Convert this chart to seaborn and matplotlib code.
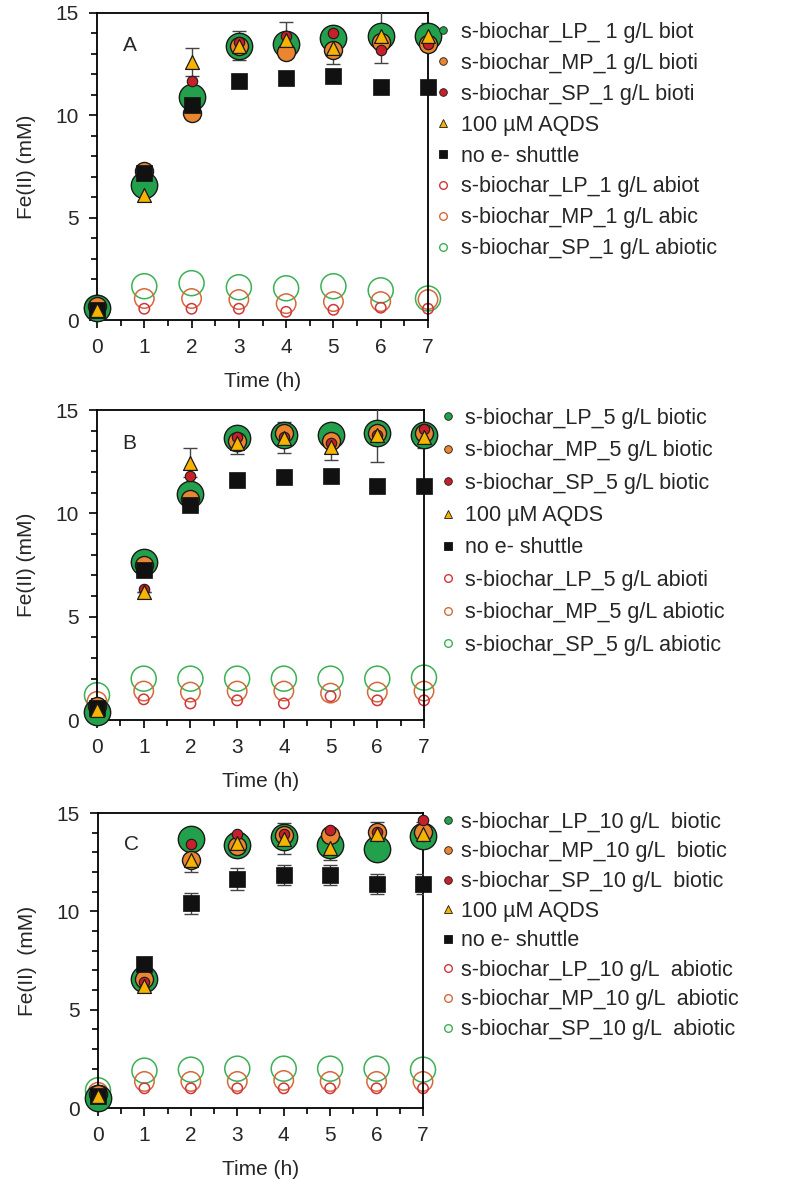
import matplotlib
matplotlib.use("Agg")
import matplotlib.pyplot as plt
from matplotlib.lines import Line2D
from matplotlib.ticker import MultipleLocator
import seaborn as sns
import pandas as pd

sns.set_theme(style="white")
plt.rcParams['font.family'] = ['Liberation Sans', 'DejaVu Sans']

time_h = [0, 1, 2, 3, 4, 5, 6, 7]

# ---- Panel A (1 g/L) ----
A_LP_bio = [0.6, 6.6, 10.9, 13.4, 13.5, 13.8, 13.9, 13.9]
A_MP_bio = [0.7, 7.3, 10.1, 13.4, 13.1, 13.2, 13.6, 13.5]
A_SP_bio = [0.5, 7.2, 11.7, 13.6, 13.9, 14.0, 13.2, 13.5]
A_AQDS = [0.5, 6.1, 12.6, 13.4, 13.7, 13.3, 13.9, 13.9]
A_AQDS_err = [0, 0, 0.7, 0.7, 0.85, 0.8, 1.35, 0.6]
A_none = [0.5, 7.2, 10.5, 11.7, 11.8, 11.9, 11.4, 11.4]
A_none_err = [0, 0, 0, 0, 0, 0, 0, 0]
A_LP_abio = [0.4, 0.55, 0.55, 0.55, 0.4, 0.5, 0.6, 0.55]
A_MP_abio = [0.6, 1.05, 1.05, 1.0, 0.8, 0.9, 0.9, 1.0]
A_SP_abio = [0.6, 1.65, 1.8, 1.6, 1.55, 1.65, 1.45, 1.05]
A_labels = ["s-biochar_LP_ 1 g/L biot", "s-biochar_MP_1 g/L bioti",
            "s-biochar_SP_1 g/L bioti", "100 µM AQDS", "no e- shuttle",
            "s-biochar_LP_1 g/L abiot", "s-biochar_MP_1 g/L abic",
            "s-biochar_SP_1 g/L abiotic"]

# ---- Panel B (5 g/L) ----
B_LP_bio = [0.4, 7.65, 10.95, 13.65, 13.8, 13.8, 13.9, 13.8]
B_MP_bio = [0.7, 7.5, 10.7, 13.5, 13.9, 13.5, 13.9, 13.9]
B_SP_bio = [0.6, 6.35, 11.8, 13.7, 13.7, 13.4, 13.8, 14.1]
B_AQDS = [0.5, 6.2, 12.45, 13.4, 13.65, 13.2, 13.8, 13.7]
B_AQDS_err = [0, 0, 0.7, 0.55, 0.75, 0.6, 1.3, 0.55]
B_none = [0.6, 7.25, 10.4, 11.6, 11.75, 11.8, 11.3, 11.3]
B_none_err = [0, 0, 0, 0, 0, 0, 0, 0]
B_LP_abio = [0.7, 1.0, 0.8, 0.95, 0.8, 1.15, 0.95, 0.95]
B_MP_abio = [0.9, 1.4, 1.35, 1.4, 1.4, 1.3, 1.35, 1.4]
B_SP_abio = [1.2, 2.0, 2.0, 2.0, 2.0, 2.0, 2.0, 2.05]
B_labels = ["s-biochar_LP_5 g/L biotic", "s-biochar_MP_5 g/L biotic",
            "s-biochar_SP_5 g/L biotic", "100 µM AQDS", "no e- shuttle",
            "s-biochar_LP_5 g/L abioti", "s-biochar_MP_5 g/L abiotic",
            "s-biochar_SP_5 g/L abiotic"]

# ---- Panel C (10 g/L) ----
C_LP_bio = [0.5, 6.55, 13.7, 13.35, 13.8, 13.35, 13.15, 13.85]
C_MP_bio = [0.7, 6.55, 12.6, 13.3, 13.9, 13.9, 14.05, 14.05]
C_SP_bio = [0.6, 6.4, 13.4, 13.95, 13.95, 14.15, 14.05, 14.65]
C_AQDS = [0.6, 6.2, 12.6, 13.5, 13.7, 13.2, 13.95, 13.95]
C_AQDS_err = [0, 0, 0.6, 0.5, 0.8, 0.6, 0.6, 0.6]
C_none = [0.6, 7.3, 10.4, 11.65, 11.85, 11.85, 11.4, 11.4]
C_none_err = [0, 0, 0.55, 0.55, 0.5, 0.5, 0.5, 0.5]
C_LP_abio = [0.6, 1.0, 1.0, 1.0, 1.0, 1.0, 1.0, 1.0]
C_MP_abio = [0.8, 1.35, 1.35, 1.35, 1.4, 1.35, 1.35, 1.35]
C_SP_abio = [0.9, 1.9, 1.95, 2.0, 2.0, 2.0, 2.0, 1.95]
C_labels = ["s-biochar_LP_10 g/L  biotic", "s-biochar_MP_10 g/L  biotic",
            "s-biochar_SP_10 g/L  biotic", "100 µM AQDS", "no e- shuttle",
            "s-biochar_LP_10 g/L  abiotic", "s-biochar_MP_10 g/L  abiotic",
            "s-biochar_SP_10 g/L  abiotic"]

GREEN = "#22a04b"
ORANGE = "#ea8530"
RED = "#c8202a"
YELLOW = "#f6b400"
BLACK = "#111111"
AB_RED = "#d0363c"
AB_ORANGE = "#d46a3a"
AB_GREEN = "#3cb055"
EDGE = "#1a1a1a"

fig = plt.figure(figsize=(8.01, 11.84), dpi=100)

panels = [
    ("A", [97, 13, 428, 320], A_LP_bio, A_MP_bio, A_SP_bio, A_AQDS, A_AQDS_err, A_none, A_none_err,
     A_LP_abio, A_MP_abio, A_SP_abio, A_labels, (1.027, 0.971), 0.46, 0.5, "Fe(II) (mM)"),
    ("B", [97, 410, 424, 720], B_LP_bio, B_MP_bio, B_SP_bio, B_AQDS, B_AQDS_err, B_none, B_none_err,
     B_LP_abio, B_MP_abio, B_SP_abio, B_labels, (1.055, 1.007), 0.53, 0.45, "Fe(II) (mM)"),
    ("C", [98, 813, 423, 1108], C_LP_bio, C_MP_bio, C_SP_bio, C_AQDS, C_AQDS_err, C_none, C_none_err,
     C_LP_abio, C_MP_abio, C_SP_abio, C_labels, (1.058, 1.004), 0.40, 0.3, "Fe(II)  (mM)"),
]

W, H = 801, 1184
for (letter, box, lpb, mpb, spb, aq, aqe, nn, nne, lpa, mpa, spa, labels,
     legpos, lspace, htpad, ylab) in panels:
    l, t, r, b = box
    ax = fig.add_axes([l / W, 1 - b / H, (r - l) / W, (b - t) / H])
    df = pd.DataFrame({"t": time_h, "lpb": lpb, "mpb": mpb, "spb": spb, "aq": aq,
                       "nn": nn, "lpa": lpa, "mpa": mpa, "spa": spa})

    # abiotic open circles
    for col, c, ms, z in [("spa", AB_GREEN, 18, 2), ("mpa", AB_ORANGE, 14, 2.1), ("lpa", AB_RED, 7.5, 2.2)]:
        sns.scatterplot(data=df, x="t", y=col, ax=ax, marker="o", s=ms ** 2,
                        facecolors="none", edgecolor=c, linewidth=1.1, zorder=z, clip_on=False, legend=False)

    # error bars
    ax.errorbar(time_h, aq, yerr=aqe, fmt="none", ecolor="#444444", elinewidth=1,
                capsize=5, capthick=1, zorder=3)
    ax.errorbar(time_h, nn, yerr=nne, fmt="none", ecolor="#444444", elinewidth=1,
                capsize=5, capthick=1, zorder=3)

    # biotic filled markers
    sns.scatterplot(data=df, x="t", y="lpb", ax=ax, marker="o", s=19 ** 2, color=GREEN,
                    edgecolor=EDGE, linewidth=1.0, zorder=4, clip_on=False, legend=False)
    sns.scatterplot(data=df, x="t", y="mpb", ax=ax, marker="o", s=13 ** 2, color=ORANGE,
                    edgecolor=EDGE, linewidth=1.0, zorder=5, clip_on=False, legend=False)
    sns.scatterplot(data=df, x="t", y="spb", ax=ax, marker="o", s=7.5 ** 2, color=RED,
                    edgecolor=EDGE, linewidth=0.8, zorder=6, clip_on=False, legend=False)
    sns.scatterplot(data=df, x="t", y="nn", ax=ax, marker="s", s=11 ** 2, color=BLACK,
                    edgecolor=BLACK, linewidth=0.5, zorder=7, clip_on=False, legend=False)
    sns.scatterplot(data=df, x="t", y="aq", ax=ax, marker="^", s=10 ** 2, color=YELLOW,
                    edgecolor=EDGE, linewidth=0.9, zorder=8, clip_on=False, legend=False)

    ax.set_xlim(0, 7)
    ax.set_ylim(0, 15)
    ax.xaxis.set_major_locator(MultipleLocator(1))
    ax.xaxis.set_minor_locator(MultipleLocator(0.5))
    ax.yaxis.set_major_locator(MultipleLocator(5))
    ax.yaxis.set_minor_locator(MultipleLocator(1))
    ax.tick_params(axis="both", which="major", direction="out", length=6, width=1.2,
                   color="black", labelsize=15, bottom=True, left=True, top=False, right=False, pad=7)
    ax.tick_params(axis="both", which="minor", direction="out", length=4, width=1.2,
                   color="black", bottom=True, left=True, top=False, right=False)
    for sp in ax.spines.values():
        sp.set_visible(True)
        sp.set_color("black")
        sp.set_linewidth(1.3)
    ax.set_xlabel("Time (h)", fontsize=15, labelpad=11)
    ax.set_ylabel(ylab, fontsize=15, labelpad=14)
    ax.text(0.55, 13.4, letter, fontsize=15, ha="left", va="center")

    handles = [
        Line2D([], [], ls="none", marker="o", ms=5.5, mfc=GREEN, mec=EDGE, mew=0.6),
        Line2D([], [], ls="none", marker="o", ms=5.5, mfc=ORANGE, mec=EDGE, mew=0.6),
        Line2D([], [], ls="none", marker="o", ms=5.5, mfc=RED, mec=EDGE, mew=0.6),
        Line2D([], [], ls="none", marker="^", ms=6, mfc=YELLOW, mec=EDGE, mew=0.6),
        Line2D([], [], ls="none", marker="s", ms=5.5, mfc=BLACK, mec=BLACK, mew=0.6),
        Line2D([], [], ls="none", marker="o", ms=5.5, mfc="none", mec=AB_RED, mew=1),
        Line2D([], [], ls="none", marker="o", ms=5.5, mfc="none", mec=AB_ORANGE, mew=1),
        Line2D([], [], ls="none", marker="o", ms=5.5, mfc="none", mec=AB_GREEN, mew=1),
    ]
    ax.legend(handles, labels, loc="upper left", bbox_to_anchor=legpos,
              bbox_transform=ax.transAxes, frameon=False, fontsize=15.5,
              handlelength=0.6, handletextpad=htpad, labelspacing=lspace,
              borderaxespad=0, borderpad=0)

fig.savefig("out.png", dpi=100)
